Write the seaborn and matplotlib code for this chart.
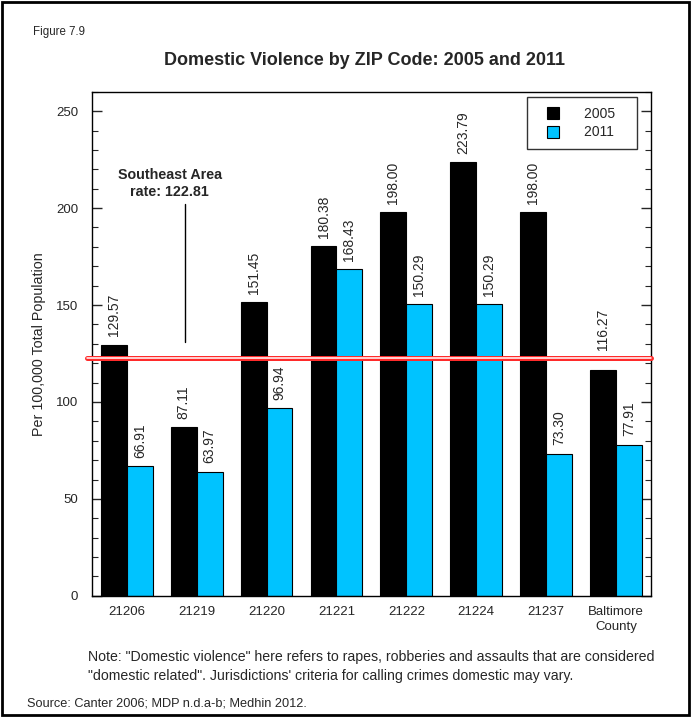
import matplotlib
matplotlib.use("Agg")
import matplotlib.pyplot as plt
from matplotlib.lines import Line2D
from matplotlib.patches import Rectangle
import seaborn as sns
import pandas as pd

zips = ["21206", "21219", "21220", "21221", "21222", "21224", "21237", "Baltimore\nCounty"]
rate_2005 = [129.57, 87.11, 151.45, 180.38, 198.00, 223.79, 198.00, 116.27]
rate_2011 = [66.91, 63.97, 96.94, 168.43, 150.29, 150.29, 73.30, 77.91]
years = ["2005", "2011"]
area_rate = 122.81

colors = {"2005": "black", "2011": "#00C3FF"}

df = pd.DataFrame({
    "zip": zips * 2,
    "year": ["2005"] * len(zips) + ["2011"] * len(zips),
    "rate": rate_2005 + rate_2011,
})

sns.set_style("white")
plt.rcParams["font.family"] = ["Liberation Sans", "DejaVu Sans"]

fig = plt.figure(figsize=(6.91, 7.17), dpi=100)
ax = fig.add_axes([0.133, 0.169, 0.809, 0.703])

sns.barplot(data=df, x="zip", y="rate", hue="year", order=zips, hue_order=years,
            palette=colors, width=0.74, edgecolor="black", linewidth=0.8,
            saturation=1, ax=ax, legend=False)

# value labels; the one that would sit on the area line is lifted above it
for cont in ax.containers:
    for bar in cont:
        h = bar.get_height()
        off = 6
        if h < area_rate and h + 8 > area_rate - 6:
            off = 15
        ax.annotate(f"{h:.2f}", (bar.get_x() + bar.get_width() / 2, h),
                    xytext=(0, off), textcoords="offset points", rotation=90,
                    ha="center", va="bottom", fontsize=10)

ax.set_xlim(-0.5, 7.5)
ax.set_ylim(0, 260)
ax.set_yticks([0, 50, 100, 150, 200, 250])
ax.set_yticks(range(0, 261, 10), minor=True)
ax.tick_params(axis="y", which="major", direction="in", length=7, width=1,
               right=True, left=True, labelsize=9.5, pad=10)
ax.tick_params(axis="y", which="minor", direction="in", length=4, width=0.8,
               right=True, left=True)
ax.tick_params(axis="x", length=0, labelsize=9.5, pad=7)
for lbl in ax.get_xticklabels():
    lbl.set_linespacing(1.4)
ax.set_xlabel("")
ax.set_ylabel("Per 100,000 Total Population", fontsize=10.3, labelpad=7)
for s in ax.spines.values():
    s.set_visible(True)
    s.set_color("black")
    s.set_linewidth(1)

# Southeast area reference line
ax.axhline(area_rate, xmin=-0.008, xmax=1.0, color="#FF2A2A", lw=3.6, clip_on=False, zorder=5)
ax.axhline(area_rate, xmin=-0.008, xmax=1.0, color="white", lw=1.1, clip_on=False, zorder=6)
ax.plot([0.83, 0.83], [130.7, 202], color="black", lw=1)
ax.text(0.614, 212.8, "Southeast Area\nrate: 122.81", ha="center", va="center",
        fontsize=10.3, fontweight="bold", linespacing=1.3)

handles = [Line2D([], [], marker="s", ls="", color=colors[y], markeredgecolor="black",
                  markersize=8, markeredgewidth=0.8) for y in years]
leg = ax.legend(handles, [y + "   " for y in years], loc="upper right",
                bbox_to_anchor=(0.975, 0.99), frameon=True, fancybox=False,
                edgecolor="black", fontsize=10, handlelength=2.3, handletextpad=1.15,
                borderpad=0.7, labelspacing=0.35, borderaxespad=0)
leg.get_frame().set_linewidth(1)

fig.text(0.527, 0.916, "Domestic Violence by ZIP Code: 2005 and 2011", ha="center",
         va="center", fontsize=13, fontweight="bold")
fig.text(0.048, 0.955, "Figure 7.9", ha="left", va="center", fontsize=8.3)
fig.text(0.127, 0.0705, "Note: \"Domestic violence\" here refers to rapes, robberies and assaults that are considered\n"
         "\"domestic related\". Jurisdictions' criteria for calling crimes domestic may vary.",
         ha="left", va="center", fontsize=10.2, linespacing=1.4)
fig.text(0.039, 0.019, "Source: Canter 2006; MDP n.d.a-b; Medhin 2012.", ha="left",
         va="center", fontsize=9.2)

fig.patches.append(Rectangle((0.003, 0.003), 0.994, 0.994, transform=fig.transFigure,
                             fill=False, edgecolor="black", lw=2))

fig.savefig("out.png", dpi=100)
plt.close(fig)
